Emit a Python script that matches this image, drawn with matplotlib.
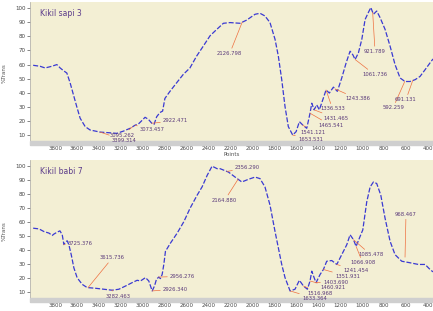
import numpy as np
import matplotlib.pyplot as plt
from matplotlib.patches import Rectangle
from matplotlib.ticker import MultipleLocator

# Kikil sapi 3 (wavenumber, %T)
wn_sapi = [4000, 3937, 3891, 3830, 3784, 3754, 3724, 3693, 3663, 3633, 3602, 3572,
           3526, 3481, 3390, 3299, 3238, 3177, 3116, 3071, 3040, 3010, 2980, 2950,
           2919, 2898, 2874, 2844, 2820, 2799, 2753, 2693, 2632, 2571, 2510, 2450,
           2387, 2326, 2266, 2205, 2114, 2053, 1977, 1932, 1887, 1841, 1795, 1765,
           1734, 1704, 1674, 1634, 1603, 1573, 1542, 1506, 1476, 1460, 1439, 1415,
           1391, 1360, 1330, 1300, 1263, 1227, 1187, 1147, 1111, 1086, 1065, 1035,
           1004, 974, 944, 922, 898, 868, 838, 792, 746, 701, 655, 610, 564, 518,
           473, 427, 382, 355]
t_sapi = [59.5, 58.8, 57.6, 58.8, 60.0, 57.6, 55.7, 54.0, 47.0, 38.6, 30.0, 22.0,
          16.0, 13.6, 12.1, 11.6, 11.2, 12.8, 14.8, 17.0, 17.9, 20.2, 22.6, 21.2,
          18.4, 17.6, 23.0, 26.0, 27.0, 36.0, 41.0, 47.0, 53.0, 57.6, 66.0, 73.0,
          80.5, 85.0, 89.3, 89.8, 89.3, 91.6, 95.7, 96.4, 94.5, 89.8, 77.9, 66.0,
          49.3, 30.2, 16.0, 10.0, 12.4, 19.5, 17.1, 14.8, 25.5, 32.6, 27.9, 31.4,
          27.9, 35.0, 42.0, 39.8, 44.0, 41.0, 50.5, 61.2, 69.5, 67.0, 63.6, 68.3,
          77.9, 92.0, 97.0, 100.5, 95.7, 98.0, 93.4, 85.0, 73.0, 60.0, 50.5, 48.0,
          48.0, 49.3, 51.6, 56.4, 61.2, 64.0]

# Kikil babi 7
wn_babi = [4000, 3947, 3902, 3856, 3826, 3811, 3780, 3756, 3735, 3720, 3705, 3690,
           3675, 3653, 3629, 3599, 3553, 3508, 3432, 3356, 3280, 3219, 3158, 3098,
           3052, 3022, 2976, 2946, 2915, 2894, 2876, 2855, 2840, 2824, 2809, 2794,
           2748, 2687, 2626, 2570, 2505, 2460, 2414, 2369, 2323, 2296, 2220, 2159,
           2098, 2038, 1977, 1932, 1887, 1841, 1795, 1734, 1704, 1658, 1613, 1573,
           1536, 1500, 1476, 1460, 1439, 1421, 1384, 1354, 1324, 1278, 1232, 1187,
           1141, 1111, 1080, 1056, 1026, 995, 959, 928, 898, 868, 831, 792, 746,
           701, 640, 564, 488, 427, 382, 355]
t_babi = [55.7, 55.2, 53.3, 52.2, 50.5, 51.5, 52.9, 53.8, 51.0, 44.0, 45.8, 46.7,
          44.0, 36.8, 27.4, 20.3, 15.6, 13.3, 12.8, 12.1, 11.4, 12.1, 14.4, 16.8,
          18.5, 18.0, 20.4, 18.0, 10.9, 14.4, 19.2, 20.8, 19.7, 22.7, 29.8, 39.2,
          45.1, 52.2, 60.4, 69.9, 79.3, 85.2, 93.4, 100.0, 98.2, 98.2, 95.8, 92.2,
          88.7, 90.6, 92.2, 91.1, 85.2, 72.2, 53.3, 29.8, 20.4, 10.9, 12.1, 18.5,
          14.4, 12.1, 18.0, 25.0, 20.4, 16.8, 22.7, 26.2, 32.1, 32.6, 29.8, 36.8,
          43.9, 51.0, 47.5, 42.7, 48.6, 54.5, 74.5, 85.2, 88.7, 87.6, 79.3, 62.8,
          46.3, 36.8, 32.1, 31.0, 29.8, 29.8, 26.2, 24.5]

# peak labels: text, leader end (wn, %T or None = on the curve), text position (wn, %T)
peaks_sapi = [("3399.314", 3390, None, 3281, 6.4), ("3095.262", 3095, None, 3299, 10.0),
              ("3073.457", 3071, None, 3025, 13.6), ("2922.471", 2919, None, 2816, 20.0),
              ("2126.798", 2095, None, 2323, 67.9), ("921.789", 905, None, 983, 69.3),
              ("1061.736", 1065, None, 1002, 52.9), ("1243.386", 1248, None, 1157, 35.7),
              ("1336.533", 1330, None, 1384, 28.6), ("1431.465", 1439, None, 1357, 22.0),
              ("1465.541", 1476, None, 1403, 17.0), ("1541.121", 1542, None, 1567, 12.1),
              ("1653.531", 1634, None, 1585, 7.1), ("592.259", 612, None, 819, 29.3),
              ("691.131", 540, None, 701, 35.0)]
peaks_babi = [("3725.376", 3720, None, 3682, 44.6), ("3615.736", 3500, None, 3390, 34.7),
              ("3282.463", 3282, None, 3335, 7.1), ("2956.276", 2855, None, 2752, 21.3),
              ("2926.340", 2915, None, 2816, 12.1), ("2356.290", 2233, None, 2159, 99.0),
              ("2164.880", 2132, None, 2369, 75.7), ("1085.478", 1080, None, 1038, 36.8),
              ("1066.908", 1056, None, 1111, 31.0), ("1241.454", 1232, None, 1175, 25.5),
              ("1351.931", 1354, None, 1248, 21.3), ("1403.690", 1421, None, 1357, 17.0),
              ("1460.921", 1476, None, 1384, 13.5), ("1516.968", 1536, None, 1503, 9.3),
              ("1633.364", 1658, None, 1549, 5.7), ("968.467", 610, 35.0, 701, 65.8)]

fig = plt.figure(figsize=(4.33, 3.11), dpi=100)
ax1 = fig.add_axes([0.069, 0.534, 0.931, 0.46])
ax2 = fig.add_axes([0.069, 0.029, 0.931, 0.457])

bg = '#f3efd4'
for ax, wn, t, name, peaks in [(ax1, wn_sapi, t_sapi, "Kikil sapi 3", peaks_sapi),
                               (ax2, wn_babi, t_babi, "Kikil babi 7", peaks_babi)]:
    ax.set_facecolor(bg)
    ax.plot(wn, t, color='#3a3ad2', lw=0.9, linestyle=(0, (4, 1.5)))
    ax.set_xlim(4030, 355)
    ax.set_ylim(3, 104.5)
    ax.set_xticks(np.arange(3800, 399, -200))
    ax.xaxis.set_minor_locator(MultipleLocator(50))
    ax.set_yticks(np.arange(10, 101, 10))
    ax.add_patch(Rectangle((0, 0), 1, 0.028, transform=ax.transAxes,
                           color='#cfcfcf', zorder=3, clip_on=False))
    ax.tick_params(axis='x', which='both', direction='in', color='#e03030',
                   length=3, width=0.6, labelsize=4, labelcolor='#444444', pad=1)
    ax.tick_params(axis='y', direction='out', length=2, width=0.5, color='#555555',
                   labelsize=4, labelcolor='#444444', pad=1)
    for s in ['top', 'right', 'bottom']:
        ax.spines[s].set_visible(False)
    ax.spines['left'].set_color('#aaaaaa')
    ax.spines['left'].set_linewidth(0.5)
    ax.text(0.025, 0.95, name, transform=ax.transAxes, fontsize=5.5,
            color='#5a3a8a', va='top')
    ax.set_ylabel("%Trans", fontsize=4, color='#555555', labelpad=6)
    for lab, pw, pv, tx, ty in peaks:
        py = np.interp(pw, wn[::-1], t[::-1]) if pv is None else pv
        ax.annotate(lab, xy=(pw, py), xytext=(tx, ty), fontsize=3.8,
                    color='#5a3a7a', va='center', ha='left',
                    arrowprops=dict(arrowstyle='-', color='#ee7040', lw=0.5,
                                    shrinkA=0, shrinkB=0))

fig.text(0.535, 0.498, "Points", fontsize=4, color='#555555', ha='center')
fig.savefig("out.png", dpi=100, facecolor='white')
